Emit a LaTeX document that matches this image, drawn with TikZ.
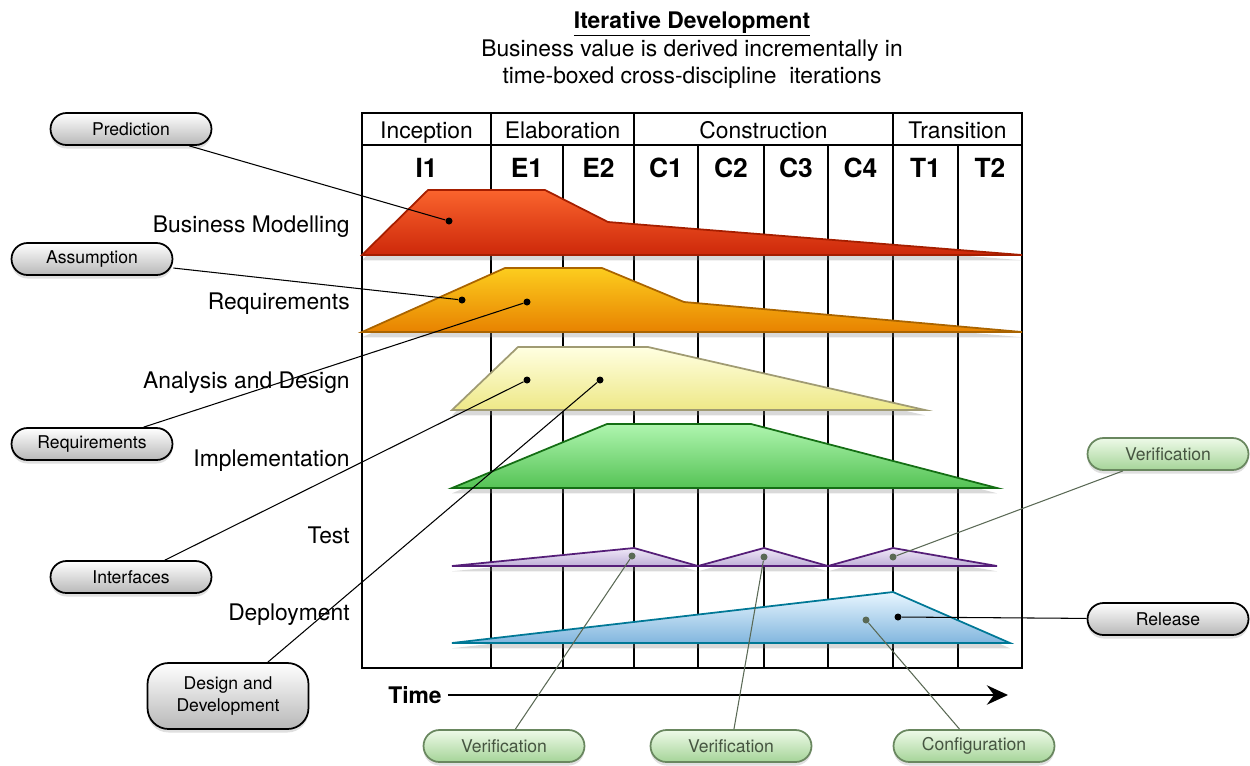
\documentclass[tikz,border=0pt]{standalone}
\usepackage{fontspec}
\setmainfont{TeX Gyre Heros}
\usetikzlibrary{arrows.meta,shadows,positioning}

\definecolor{bmtop}{RGB}{250,100,45}
\definecolor{bmbot}{RGB}{205,40,10}
\definecolor{bmline}{RGB}{165,30,0}
\definecolor{rqtop}{RGB}{252,205,30}
\definecolor{rqbot}{RGB}{232,130,0}
\definecolor{rqline}{RGB}{170,100,0}
\definecolor{adtop}{RGB}{255,255,225}
\definecolor{adbot}{RGB}{238,232,135}
\definecolor{adline}{RGB}{160,155,115}
\definecolor{imtop}{RGB}{175,245,175}
\definecolor{imbot}{RGB}{85,195,85}
\definecolor{imline}{RGB}{20,110,20}
\definecolor{tstop}{RGB}{240,232,248}
\definecolor{tsbot}{RGB}{190,175,215}
\definecolor{tsline}{RGB}{85,30,120}
\definecolor{dptop}{RGB}{232,246,255}
\definecolor{dpbot}{RGB}{130,182,222}
\definecolor{dpline}{RGB}{0,120,150}
\definecolor{vgtop}{RGB}{238,250,232}
\definecolor{vgbot}{RGB}{165,212,152}
\definecolor{vgline}{RGB}{105,135,95}
\definecolor{vgtext}{RGB}{70,85,65}
\definecolor{vglink}{RGB}{90,105,85}

\tikzstyle{callout} = [rectangle, rounded corners=0.32cm, minimum width=3.22cm, minimum height=0.64cm, text centered, draw=black, line width=1pt, top color=white, bottom color=black!28, font=\fontsize{10}{12}\selectfont, drop shadow={opacity=0.25, shadow xshift=0pt, shadow yshift=-2pt}]
\tikzstyle{greencallout} = [callout, draw=vgline, top color=vgtop, bottom color=vgbot, text=vgtext]
\tikzstyle{phase} = [text height=10.5pt, text depth=1.2pt, font=\fontsize{13}{15}\selectfont]
\tikzstyle{iter} = [font=\fontsize{15}{18}\selectfont\bfseries]
\tikzstyle{discipline} = [anchor=east, inner sep=0pt, text height=10.5pt, text depth=1.2pt, font=\fontsize{13}{15}\selectfont]
\tikzstyle{grid} = [line width=1.1pt]
\tikzstyle{flow} = [line width=1pt, drop shadow={opacity=0.3, shadow xshift=0pt, shadow yshift=-3pt}]
\tikzstyle{dot} = [circle, fill=black, inner sep=0pt, minimum size=0.14cm]
\tikzstyle{gdot} = [dot, fill=vglink]
\tikzstyle{link} = [line width=0.6pt]
\tikzstyle{glink} = [link, draw=vglink]
\tikzstyle{timearrow} = [line width=1.5pt, -{Stealth[length=12pt, width=11pt, inset=4pt]}]

\begin{document}
\begin{tikzpicture}[x=0.02cm, y=-0.02cm]
\useasboundingbox (0,0) rectangle (1250,765);

\node (title) [align=center, font=\fontsize{13}{15.8}\selectfont] at (692,50) {\textbf{\underline{Iterative Development}}\\Business value is derived incrementally in\\time-boxed cross-discipline\ \ iterations};

%table
\draw [grid] (362,113) rectangle (1022,668);
\draw [grid] (362,145) -- (1022,145);
\foreach \x in {491,634,893}
  \draw [grid] (\x,113) -- (\x,668);
\foreach \x in {563,698,764,828,958}
  \draw [grid] (\x,145) -- (\x,668);

\node (inception) [phase] at (426.5,130) {Inception};
\node (elaboration) [phase] at (562.5,130) {Elaboration};
\node (construction) [phase] at (763.5,130) {Construction};
\node (transition) [phase] at (957.5,130) {Transition};

\foreach \x/\it in {426.5/I1,527/E1,598.5/E2,666/C1,731/C2,796/C3,860.5/C4,925.5/T1,990/T2}
  \node (\it) [iter] at (\x,168) {\it};

\node (bmlabel) [discipline] at (350,224) {Business Modelling};
\node (rqlabel) [discipline] at (350,301) {Requirements};
\node (adlabel) [discipline] at (350,380) {Analysis and Design};
\node (imlabel) [discipline] at (350,458) {Implementation};
\node (tslabel) [discipline] at (350,535) {Test};
\node (dplabel) [discipline] at (350,612) {Deployment};

%workflows
\path [flow, draw=bmline, top color=bmtop, bottom color=bmbot] (362,255) -- (428,190) -- (545,190) -- (608,222) -- (1022,255) -- cycle;
\path [flow, draw=rqline, top color=rqtop, bottom color=rqbot] (362,332) -- (505,268) -- (602,268) -- (684,302) -- (1022,332) -- cycle;
\path [flow, draw=adline, top color=adtop, bottom color=adbot] (452,410) -- (518,347) -- (648,347) -- (925,410) -- cycle;
\path [flow, draw=imline, top color=imtop, bottom color=imbot] (452,488) -- (607,424) -- (751,424) -- (997,488) -- cycle;
\path [flow, draw=tsline, top color=tstop, bottom color=tsbot] (452,566) -- (634,548) -- (698,566) -- (764,548) -- (828,566) -- (893,548) -- (997,566) -- cycle;
\path [flow, draw=dpline, top color=dptop, bottom color=dpbot] (452,643) -- (893,592) -- (1010,643) -- cycle;

\node (time) [font=\fontsize{13}{15}\selectfont\bfseries] at (415,695) {Time};
\coordinate (tend) at (1008,695);
\draw [timearrow] (time) -- (tend);

%dots
\node (dpred) [dot] at (449,221) {};
\node (dassu) [dot] at (462,300) {};
\node (dreq) [dot] at (527,302) {};
\node (dintf) [dot] at (527,380) {};
\node (ddes) [dot] at (600,380) {};
\node (dver1) [gdot] at (632,556) {};
\node (dver2) [gdot] at (764,557) {};
\node (dver3) [gdot] at (893,557) {};
\node (dconf) [gdot] at (866,620) {};
\node (drel) [dot] at (898,617) {};

%callouts
\node (pred) [callout] at (131,129) {Prediction};
\node (assu) [callout] at (92,259) {Assumption};
\node (req) [callout] at (92,444) {Requirements};
\node (intf) [callout] at (131,577) {Interfaces};
\node (desdev) [callout, align=center, minimum height=1.32cm, rounded corners=0.42cm] at (228,696) {Design and\\Development};
\node (ver3) [greencallout] at (1168,454) {Verification};
\node (rel) [callout] at (1168,619) {Release};
\node (ver1) [greencallout] at (504,746) {Verification};
\node (ver2) [greencallout] at (731,746) {Verification};
\node (conf) [greencallout] at (974,746) {Configuration};

%links
\draw [link] (dpred) -- (pred);
\draw [link] (dassu) -- (assu);
\draw [link] (dreq) -- (req);
\draw [link] (dintf) -- (intf);
\draw [link] (ddes) -- (desdev);
\draw [link] (drel) -- (rel);
\draw [glink] (dver1) -- (ver1);
\draw [glink] (dver2) -- (ver2);
\draw [glink] (dver3) -- (ver3);
\draw [glink] (dconf) -- (conf);
\end{tikzpicture}
\end{document}
